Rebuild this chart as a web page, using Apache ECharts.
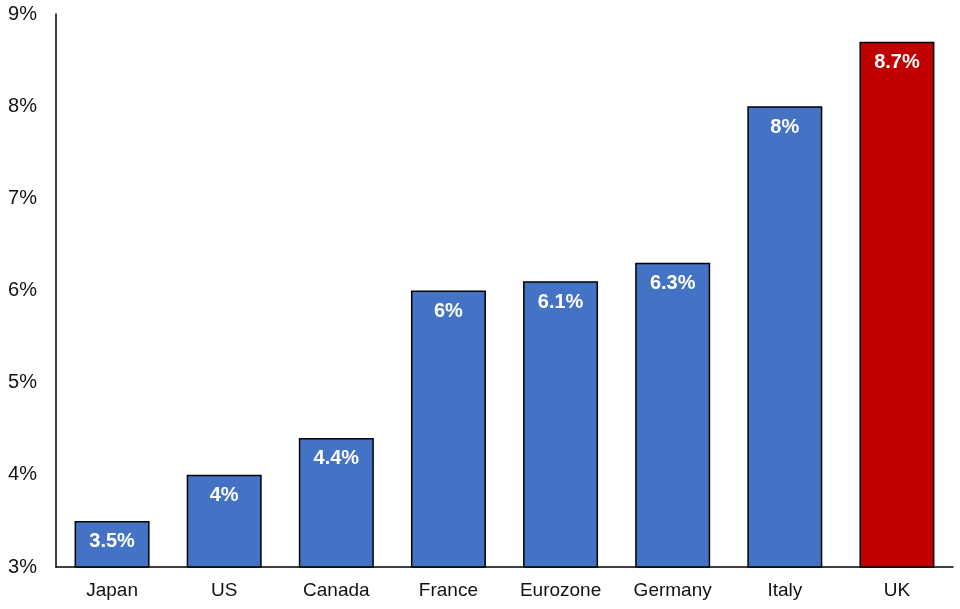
<!DOCTYPE html>
<html>
<head>
<meta charset="utf-8">
<script src="https://cdn.jsdelivr.net/npm/echarts@6/dist/echarts.min.js"></script>
<style>
html, body { margin: 0; padding: 0; background: #fff; }
#chart { width: 960px; height: 609px; }
</style>
</head>
<body>
<div id="chart"></div>
<script>
var categories = ['Japan', 'US', 'Canada', 'France', 'Eurozone', 'Germany', 'Italy', 'UK'];
var values = [3.5, 4, 4.4, 6, 6.1, 6.3, 8, 8.7];
var highlight = 'UK';

var myChart = echarts.init(document.getElementById('chart'));

var option = {
    animation: false,
    grid: {
        left: 56,
        right: 7,
        top: 14,
        bottom: 42
    },
    xAxis: {
        type: 'category',
        data: categories,
        axisLine: { lineStyle: { color: '#000', width: 1.5 } },
        axisTick: { show: false },
        axisLabel: {
            color: '#111',
            fontSize: 19,
            fontFamily: 'Liberation Sans, Arial, sans-serif',
            margin: 14
        }
    },
    yAxis: {
        type: 'value',
        min: 3,
        max: 9,
        interval: 1,
        axisLine: { show: true, lineStyle: { color: '#000', width: 1.5 } },
        axisTick: { show: false },
        splitLine: { show: false },
        axisLabel: {
            formatter: '{value}%',
            color: '#111',
            fontSize: 20,
            fontFamily: 'Liberation Sans, Arial, sans-serif',
            margin: 19
        }
    },
    series: [
        {
            type: 'bar',
            barWidth: 75,
            data: values.map(function (v, i) {
                return {
                    value: v,
                    itemStyle: { color: categories[i] === highlight ? '#C00000' : '#4472C4' }
                };
            }),
            itemStyle: {
                borderColor: '#000',
                borderWidth: 1.5
            },
            label: {
                show: true,
                position: 'insideTop',
                distance: 11,
                formatter: '{c}%',
                color: '#fff',
                fontSize: 20,
                fontWeight: 'bold',
                fontFamily: 'Liberation Sans, Arial, sans-serif'
            }
        }
    ]
};

myChart.setOption(option);
</script>
</body>
</html>
